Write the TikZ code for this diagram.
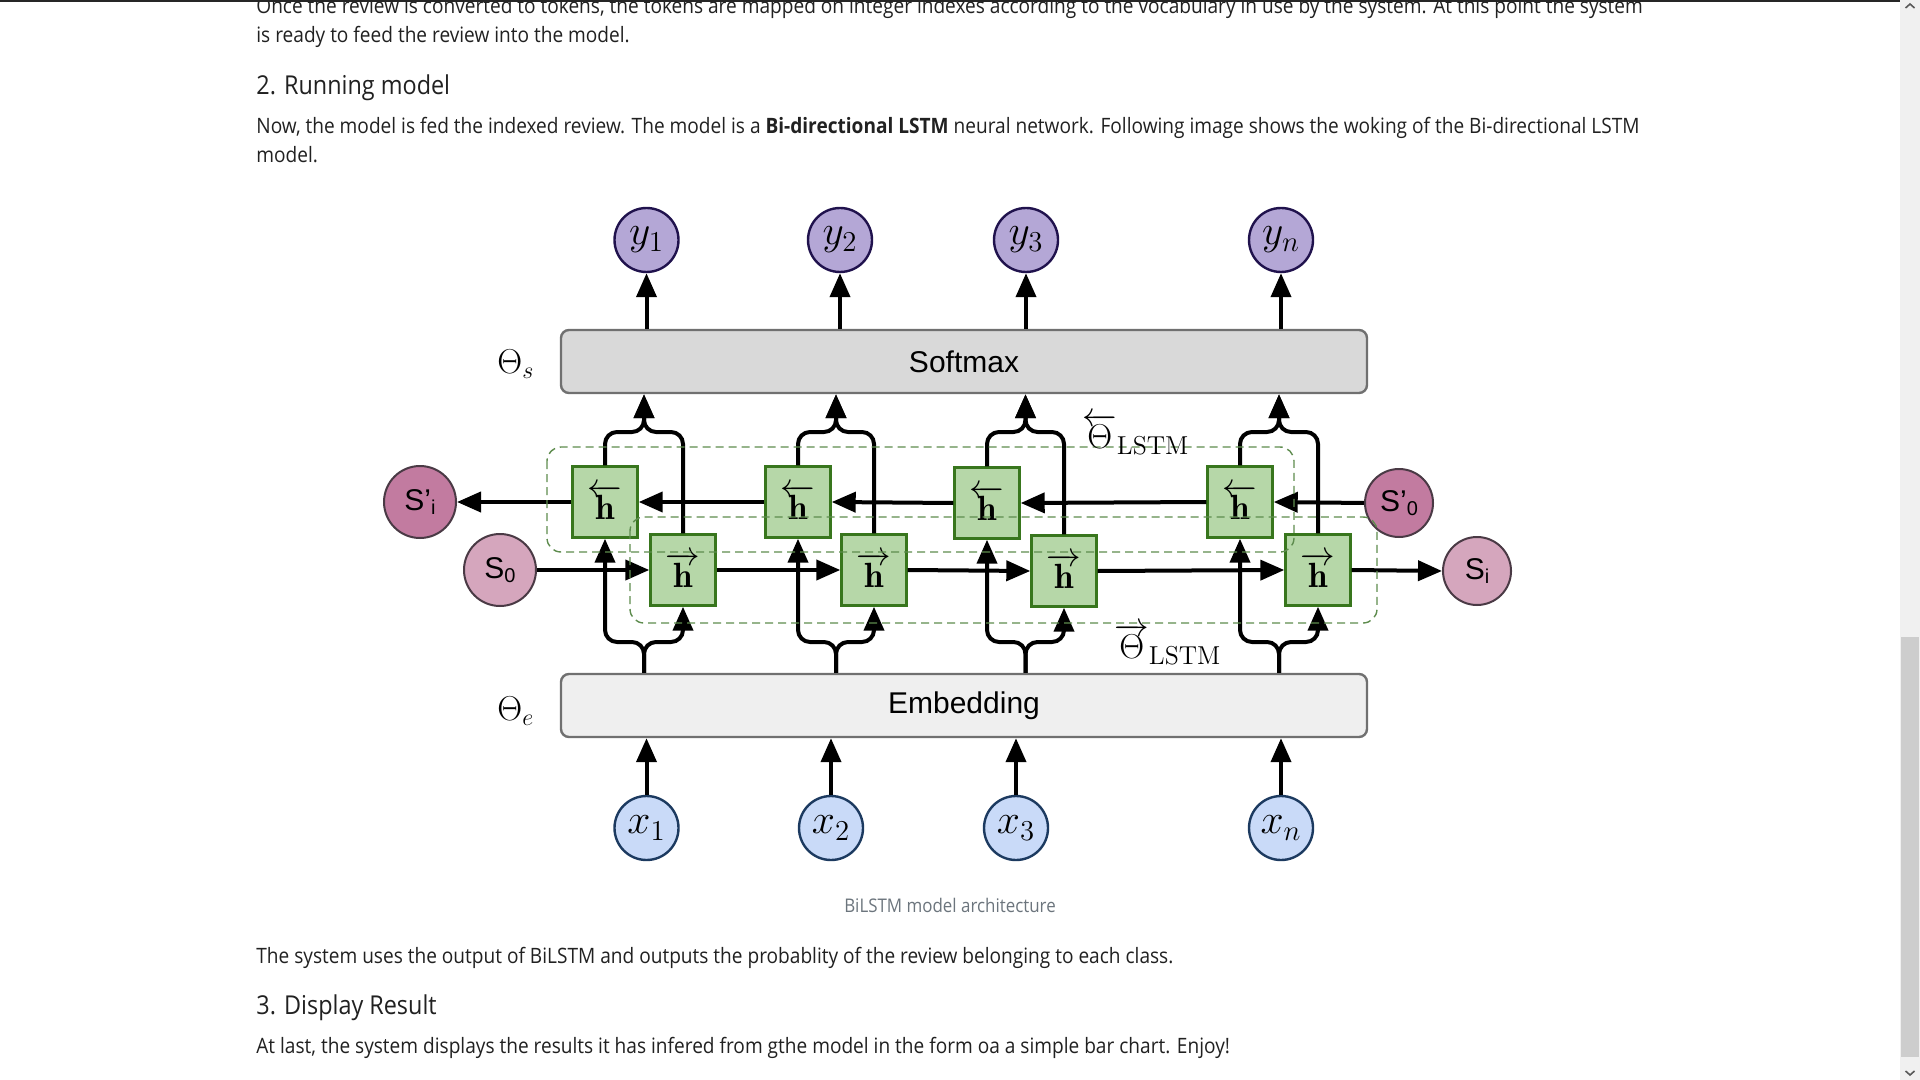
\documentclass[tikz,border=0pt]{standalone}
\usepackage{fontspec}
\setsansfont{Liberation Sans}
\newfontfamily\bodyfont[FakeStretch=0.9]{Open Sans}
\usetikzlibrary{arrows.meta}
\definecolor{yfill}{HTML}{B4A7D6}
\definecolor{ydraw}{HTML}{20124D}
\definecolor{xfill}{HTML}{C9DAF8}
\definecolor{xdraw}{HTML}{1C3A60}
\definecolor{spfill}{HTML}{C27BA0}
\definecolor{sfill}{HTML}{D5A6BD}
\definecolor{sdraw}{HTML}{4A3A45}
\definecolor{hfill}{HTML}{B6D7A8}
\definecolor{hdraw}{HTML}{38761D}
\definecolor{dashcol}{HTML}{5E8C4E}
\definecolor{smfill}{HTML}{D9D9D9}
\definecolor{emfill}{HTML}{EFEFEF}
\definecolor{boxdraw}{HTML}{707070}
\definecolor{bodytext}{HTML}{212121}
\definecolor{captext}{HTML}{6C757D}
\definecolor{track}{HTML}{F0F0F0}
\definecolor{thumb}{HTML}{CDCDCD}
\begin{document}
\begin{tikzpicture}[x=0.5pt,y=-0.5pt,
  conn/.style={line width=2pt,black},
  arr/.style={conn,-{Triangle[length=12pt,width=10pt]}},
  fork/.style={arr,rounded corners=6pt},
  ycirc/.style={circle,draw=ydraw,fill=yfill,line width=1.2pt,minimum size=32pt,inner sep=0pt,font=\fontsize{22}{22}\selectfont},
  xcirc/.style={circle,draw=xdraw,fill=xfill,line width=1.2pt,minimum size=32pt,inner sep=0pt,font=\fontsize{22}{22}\selectfont},
  spcirc/.style={circle,draw=sdraw,fill=spfill,line width=1pt,inner sep=0pt,font=\sffamily\fontsize{15}{15}\selectfont},
  scirc/.style={circle,draw=sdraw,fill=sfill,line width=1pt,inner sep=0pt,font=\sffamily\fontsize{15}{15}\selectfont},
  hbox/.style={rectangle,draw=hdraw,fill=hfill,line width=1.2pt,minimum width=32.5pt,minimum height=35.5pt,inner sep=0pt,font=\fontsize{17.5}{17.5}\selectfont},
  layerbox/.style={rectangle,rounded corners=4pt,draw=boxdraw,line width=1.2pt,minimum width=403pt,minimum height=31.5pt,inner sep=0pt,font=\sffamily\fontsize{15}{15}\selectfont},
  dashbox/.style={draw=dashcol,line width=0.7pt,dash pattern=on 4pt off 2.5pt,rounded corners=7pt},
  theta/.style={anchor=base west,inner sep=0pt,font=\fontsize{18.5}{18.5}\selectfont},
  body/.style={anchor=base west,inner sep=0pt,text=bodytext,font=\bodyfont\fontsize{10.6}{12}\selectfont},
  head/.style={anchor=base west,inner sep=0pt,text=bodytext,font=\bodyfont\fontsize{13}{15}\selectfont}]
\useasboundingbox (0,0) rectangle (1920,1080);
\fill[white] (0,0) rectangle (1920,1080);

% ---- page text ----
\node[body] (t1) at (256,13.5) {Once the review is converted to tokens, the tokens are mapped on integer indexes according to the vocabulary in use by the system. At this point the system};
\node[body] (t2) at (256,42.5) {is ready to feed the review into the model.};
\node[head] (h2) at (256,94.5) {2. Running model};
\node[body] (t3) at (256,133.5) {Now, the model is fed the indexed review. The model is a \textbf{Bi-directional LSTM} neural network. Following image shows the woking of the Bi-directional LSTM};
\node[body] (t4) at (256,163) {model.};
\node[anchor=base,inner sep=0pt,text=captext,font=\bodyfont\fontsize{9.4}{11}\selectfont] (cap) at (950,912) {BiLSTM model architecture};
\node[body] (t5) at (256,963) {The system uses the output of BiLSTM and outputs the probablity of the review belonging to each class.};
\node[head] (h3) at (256,1014) {3. Display Result};
\node[body] (t6) at (256,1053) {At last, the system displays the results it has infered from gthe model in the form oa a simple bar chart. Enjoy!};

% ---- layers ----
\node[layerbox,fill=smfill] (soft) at (964,361.5) {Softmax};
\node[layerbox,fill=emfill] (emb) at (964,705.5) {Embedding};
\node[theta] (ths) at (497,373) {$\Theta_s$};
\node[theta] (the) at (497,720) {$\Theta_e$};

% ---- outputs / inputs ----
\node[ycirc] (y1) at (646.5,240) {$y_1$};
\node[ycirc] (y2) at (840,240) {$y_2$};
\node[ycirc] (y3) at (1026,240) {$y_3$};
\node[ycirc] (yn) at (1281,240) {$y_n$};
\node[xcirc] (x1) at (646.5,828) {$x_1$};
\node[xcirc] (x2) at (831,828) {$x_2$};
\node[xcirc] (x3) at (1016,828) {$x_3$};
\node[xcirc] (xn) at (1281,828) {$x_n$};

% ---- states ----
\node[spcirc,minimum size=36pt] (spi) at (420,502) {S'\raisebox{-2pt}{\fontsize{10}{10}\selectfont i}};
\node[scirc,minimum size=36pt] (s0) at (500,570) {S\raisebox{-2pt}{\fontsize{10}{10}\selectfont 0}};
\node[spcirc,minimum size=34pt] (sp0) at (1399,503) {S'\raisebox{-2pt}{\fontsize{10}{10}\selectfont 0}};
\node[scirc,minimum size=34pt] (si) at (1477,571) {S\raisebox{-2pt}{\fontsize{10}{10}\selectfont i}};

% ---- LSTM cells ----
\node[hbox] (b1) at (605,502) {$\overleftarrow{\mathbf{h}}$};
\node[hbox] (b2) at (798,502) {$\overleftarrow{\mathbf{h}}$};
\node[hbox] (b3) at (987,503) {$\overleftarrow{\mathbf{h}}$};
\node[hbox] (b4) at (1240,502) {$\overleftarrow{\mathbf{h}}$};
\node[hbox] (f1) at (683,570) {$\overrightarrow{\mathbf{h}}$};
\node[hbox] (f2) at (874,570) {$\overrightarrow{\mathbf{h}}$};
\node[hbox] (f3) at (1064,571) {$\overrightarrow{\mathbf{h}}$};
\node[hbox] (f4) at (1318,570) {$\overrightarrow{\mathbf{h}}$};

% fork points
\coordinate (u1) at (644,432); \coordinate (u2) at (836,432);
\coordinate (u3) at (1025.5,432); \coordinate (u4) at (1279,432);
\coordinate (d1) at (644,642); \coordinate (d2) at (836,642);
\coordinate (d3) at (1025.5,642); \coordinate (d4) at (1279,642);

% ---- connectors ----
\foreach \y in {y1,y2,y3,yn} \draw[arr] (soft.north -| \y) -- (\y.south);
\foreach \x in {x1,x2,x3,xn} \draw[arr] (\x.north) -- (emb.south -| \x);
\foreach \i in {1,2,3,4} {
  \draw[fork] (b\i.north) |- (u\i) -- (soft.south -| u\i);
  \draw[fork] (f\i.north) |- (u\i) -- (soft.south -| u\i);
  \draw[fork] (emb.north -| d\i) -- (d\i) -| (b\i.south);
  \draw[fork] (emb.north -| d\i) -- (d\i) -| (f\i.south);
}
% backward chain
\draw[arr] (sp0.west) -- (b4.east);
\draw[arr] (b4.west) -- (b3.east);
\draw[arr] (b3.west) -- (b2.east);
\draw[arr] (b2.west) -- (b1.east);
\draw[arr] (b1.west) -- (spi.east);
% forward chain
\draw[arr] (s0.east) -- (f1.west);
\draw[arr] (f1.east) -- (f2.west);
\draw[arr] (f2.east) -- (f3.west);
\draw[arr] (f3.east) -- (f4.west);
\draw[arr] (f4.east) -- (si.west);

% ---- dashed parameter groups ----
\draw[dashbox] (547,447) rectangle (1294,552);
\draw[dashbox] (630,517) rectangle (1377,623);
\node[theta] (thb) at (1082,448) {$\overleftarrow{\Theta}_{\mathrm{LSTM}}$};
\node[theta] (thf) at (1114,658) {$\overrightarrow{\Theta}_{\mathrm{LSTM}}$};

% ---- browser chrome ----
\fill[black!85] (0,0) rectangle (1900,2);
\fill[track] (1900,0) rectangle (1920,1080);
\fill[thumb] (1901,637) rectangle (1919,1057);
\draw[black!65,line width=0.8pt] (1905.5,8) -- (1910,4) -- (1914.5,8);
\draw[black!65,line width=0.8pt] (1905.5,1071) -- (1910,1075) -- (1914.5,1071);
\end{tikzpicture}
\end{document}
